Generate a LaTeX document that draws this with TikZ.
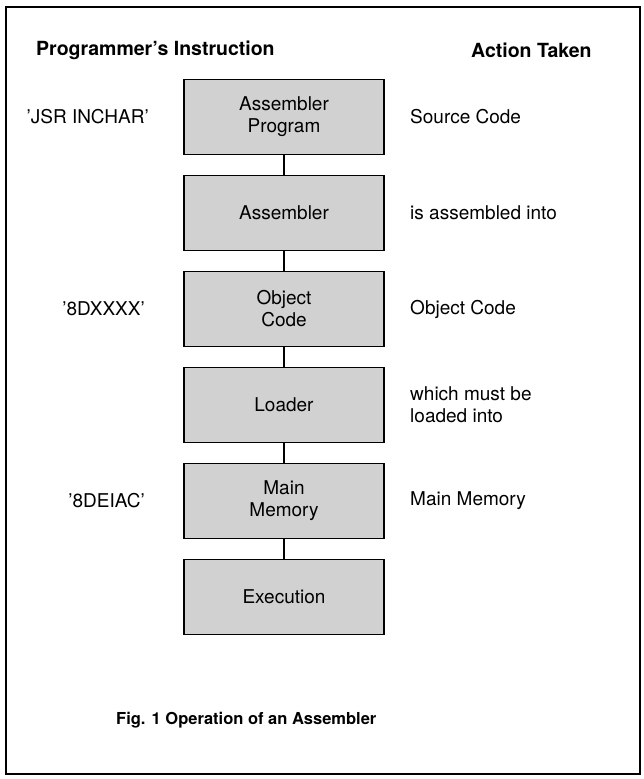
\documentclass[tikz,border=0pt]{standalone}
\usepackage{fontspec}
\setmainfont{TeX Gyre Heros}
\usepackage{tikz}
\usepackage{xcolor}
\usetikzlibrary{positioning}
\definecolor{stipplegray}{gray}{0.82}

\begin{document}
\begin{tikzpicture}[x=1pt, y=-1pt, line width=1.8pt,
  every node/.style={font=\fontsize{19}{22}\selectfont},
  stage/.style={draw, fill=stipplegray, minimum width=200pt, minimum height=75pt, align=center, inner sep=2pt},
  heading/.style={font=\fontsize{19.5}{22}\selectfont\bfseries, anchor=west},
  instr/.style={anchor=east},
  action/.style={anchor=west, align=left}]
  \useasboundingbox (0,0) rectangle (643,779);
  \draw (6,7) rectangle (640,774);

  \node[heading] (hinstr) at (32,50) {Programmer's Instruction};
  \node[heading] (haction) at (467,50) {Action Taken};

  \node[stage] (src) at (284,117) {Assembler\\Program};
  \node[stage] (asm) at (284,213) {Assembler};
  \node[stage] (obj) at (284,309) {Object\\Code};
  \node[stage] (ldr) at (284,405) {Loader};
  \node[stage] (mem) at (284,501) {Main\\Memory};
  \node[stage] (exe) at (284,597) {Execution};
  \draw (src) -- (asm);
  \draw (asm) -- (obj);
  \draw (obj) -- (ldr);
  \draw (ldr) -- (mem);
  \draw (mem) -- (exe);

  \node[instr] (isrc) at (153,117) {'JSR INCHAR'};
  \node[instr] (iobj) at (149,309) {'8DXXXX'};
  \node[instr] (imem) at (149,501) {'8DEIAC'};

  \node[action] (asrc) at (406,117) {Source Code};
  \node[action] (aasm) at (406,213) {is assembled into};
  \node[action] (aobj) at (406,309) {Object Code};
  \node[action] (aldr) at (406,405) {which must be\\loaded into};
  \node[action] (amem) at (406,501) {Main Memory};

  \node[heading, font=\fontsize{16.5}{20}\selectfont\bfseries] (caption) at (112,720) {Fig. 1 Operation of an Assembler};
\end{tikzpicture}
\end{document}
